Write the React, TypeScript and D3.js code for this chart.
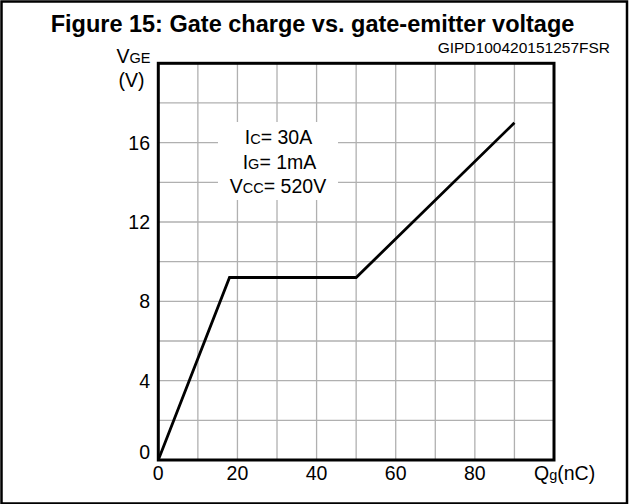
import React from "react";
import * as d3 from "d3";

const qg = [0, 18, 50, 90];
const vge = [0, 9.2, 9.2, 17];
const xTicks = [0, 20, 40, 60, 80];
const yTicks = [0, 4, 8, 12, 16];
const xGrid = [10, 20, 30, 40, 50, 60, 70, 80, 90];
const yGrid = [2, 4, 6, 8, 10, 12, 14, 16, 18];
const title = "Figure 15: Gate charge vs. gate-emitter voltage";
const code = "GIPD100420151257FSR";

const W = 632;
const H = 504;
const FONT = "'Liberation Sans', Arial, Helvetica, sans-serif";

export default function App() {
  const x = d3.scaleLinear().domain([0, 100]).range([158.3, 554]);
  const y = d3.scaleLinear().domain([0, 20]).range([460, 63.3]);
  const line = d3
    .line<number>()
    .x((_, i) => x(qg[i]))
    .y((d) => y(d));

  const box = { x0: 218, x1: 338, y0: 122, y1: 200 };

  return (
    <div style={{ position: "fixed", left: 0, top: 0 }}>
      <svg width={W} height={H} style={{ display: "block", fontFamily: FONT }}>
        <rect x={0} y={0} width={W} height={H} fill="#fff" />
        <rect x={1.5} y={1.5} width={625.5} height={502} fill="none" stroke="#000" strokeWidth={2.5} />
        <text x={312.5} y={32} textAnchor="middle" fontSize={23.5} fontWeight="bold" fill="#000">
          {title}
        </text>
        <text x={610} y={53} textAnchor="end" fontSize={15.5} fill="#000">
          {code}
        </text>
        {/* grid */}
        {xGrid.map((v) => (
          <line key={"gx" + v} x1={x(v)} x2={x(v)} y1={y(0)} y2={y(20)} stroke="#b0b0b0" strokeWidth={1.3} />
        ))}
        {yGrid.map((v) => (
          <line key={"gy" + v} x1={x(0)} x2={x(100)} y1={y(v)} y2={y(v)} stroke="#b0b0b0" strokeWidth={1.3} />
        ))}
        {/* annotation box masking grid */}
        <rect x={box.x0} y={box.y0} width={box.x1 - box.x0} height={box.y1 - box.y0} fill="#fff" />
        <g fontSize={19.5} fill="#000" textAnchor="middle">
          <text x={278.5} y={144.3}>
            I<tspan fontSize={14.5}>C</tspan>= 30A
          </text>
          <text x={279.5} y={168.5}>
            I<tspan fontSize={14.5}>G</tspan>= 1mA
          </text>
          <text x={278} y={193.3}>
            V<tspan fontSize={14.5}>CC</tspan>= 520V
          </text>
        </g>
        {/* frame */}
        <rect
          x={x(0)}
          y={y(20)}
          width={x(100) - x(0)}
          height={y(0) - y(20)}
          fill="none"
          stroke="#000"
          strokeWidth={3}
        />
        {/* curve */}
        <path d={line(vge) || ""} fill="none" stroke="#000" strokeWidth={2.8} strokeLinejoin="miter" />
        {/* y ticks */}
        {yTicks.map((v) => (
          <text
            key={"yt" + v}
            x={150}
            y={v === 0 ? 459 : y(v) + 7}
            textAnchor="end"
            fontSize={19.5}
            fill="#000"
          >
            {v}
          </text>
        ))}
        {xTicks.map((v) => (
          <text key={"xt" + v} x={x(v)} y={480} textAnchor="middle" fontSize={19.5} fill="#000">
            {v}
          </text>
        ))}
        <text x={116.5} y={62.5} fontSize={19.5} fill="#000">
          V<tspan fontSize={14.5}>GE</tspan>
        </text>
        <text x={131.5} y={86.5} textAnchor="middle" fontSize={19.5} fill="#000">
          (V)
        </text>
        <text x={534} y={480} fontSize={19.5} fill="#000">
          Q<tspan fontSize={14.5}>g</tspan>(nC)
        </text>
      </svg>
    </div>
  );
}
